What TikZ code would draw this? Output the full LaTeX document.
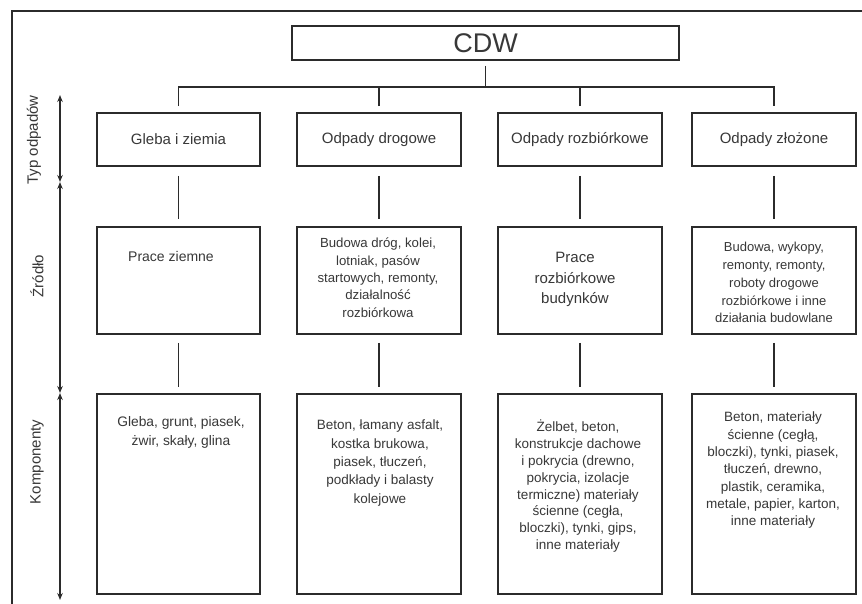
\documentclass[tikz,border=0pt]{standalone}
\usepackage{fontspec}
\setmainfont{Liberation Sans}
\usetikzlibrary{arrows.meta}
\definecolor{ln}{HTML}{2B2B2B}
\definecolor{tx}{HTML}{383838}
\begin{document}
\begin{tikzpicture}[x=1pt,y=-1pt,
  box/.style={draw=ln, line width=1.6pt, inner sep=0pt, fill=white},
  conn/.style={draw=ln, line width=1.5pt},
  axis/.style={draw=ln, line width=1.2pt, {Stealth[length=7pt,width=5.5pt]}-{Stealth[length=7pt,width=5.5pt]}},
  txt/.style={text=tx, inner sep=0pt, align=center, anchor=north},
  hd/.style={text=tx, font=\fontsize{15}{18}\selectfont},
  side/.style={text=tx, rotate=90, font=\fontsize{15}{18}\selectfont, inner sep=0pt}]
\useasboundingbox (0,0) rectangle (862,604);
\clip (0,0) rectangle (862,604);
\fill[white] (0,0) rectangle (862,604);
% outer frame
\draw[ln, line width=1.2pt] (12,640) -- (12,11) -- (900,11);

% top
\node[box, minimum width=387pt, minimum height=34pt, text=tx, font=\fontsize{27}{30}\selectfont] (cdw) at (485.5,43) {CDW};

% row 1
\node[box, hd, minimum width=163pt, minimum height=53pt] (t1) at (178.5,139.5) {Gleba i ziemia};
\node[box, hd, minimum width=164pt, minimum height=53pt] (t2) at (379,139.5) {Odpady drogowe};
\node[box, hd, minimum width=164pt, minimum height=53pt] (t3) at (580,139.5) {Odpady rozbiórkowe};
\node[box, hd, minimum width=164pt, minimum height=53pt] (t4) at (774,139.5) {Odpady złożone};

% row 2
\node[box, minimum width=163pt, minimum height=107pt] (s1) at (178.5,280.5) {};
\node[box, minimum width=164pt, minimum height=107pt] (s2) at (379,280.5) {};
\node[box, minimum width=164pt, minimum height=107pt] (s3) at (580,280.5) {};
\node[box, minimum width=164pt, minimum height=107pt] (s4) at (774,280.5) {};

% row 3
\node[box, minimum width=163pt, minimum height=200pt] (k1) at (178.5,494) {};
\node[box, minimum width=164pt, minimum height=200pt] (k2) at (379,494) {};
\node[box, minimum width=164pt, minimum height=200pt] (k3) at (580,494) {};
\node[box, minimum width=164pt, minimum height=200pt] (k4) at (774,494) {};

% row 2 texts
\node[txt, font=\fontsize{14}{17}\selectfont] (s1t) at (171,251.5) {Prace ziemne};
\node[txt, font=\fontsize{13.2}{17.3}\selectfont] (s2t) at (378,238) {Budowa dróg, kolei,\\lotniak, pasów\\startowych, remonty,\\działalność\\rozbiórkowa};
\node[txt, font=\fontsize{15}{20.5}\selectfont] (s3t) at (575,252) {Prace\\rozbiórkowe\\budynków};
\node[txt, font=\fontsize{13}{17.8}\selectfont] (s4t) at (774,242) {Budowa, wykopy,\\remonty, remonty,\\roboty drogowe\\rozbiórkowe i inne\\działania budowlane};

% row 3 texts
\node[txt, font=\fontsize{13.8}{19}\selectfont] (k1t) at (181,416.5) {Gleba, grunt, piasek,\\żwir, skały, glina};
\node[txt, font=\fontsize{13.5}{18.3}\selectfont] (k2t) at (380,420) {Beton, łamany asfalt,\\kostka brukowa,\\piasek, tłuczeń,\\podkłady i balasty\\kolejowe};
\node[txt, font=\fontsize{13.5}{16.9}\selectfont] (k3t) at (578,419.5) {Żelbet, beton,\\konstrukcje dachowe\\i pokrycia (drewno,\\pokrycia, izolacje\\termiczne) materiały\\ścienne (cegła,\\bloczki), tynki, gips,\\inne materiały};
\node[txt, font=\fontsize{13.5}{17.3}\selectfont] (k4t) at (773,412) {Beton, materiały\\ścienne (cegłą,\\bloczki), tynki, piasek,\\tłuczeń, drewno,\\plastik, ceramika,\\metale, papier, karton,\\inne materiały};

% tree connectors
\coordinate (bar) at (486,87);
\draw[conn] ([yshift=-5pt]cdw.south) -- (cdw.south |- bar);
\draw[conn] ([yshift=6pt]t1.north) -- (t1.north |- bar) -- (t4.north |- bar) -- ([yshift=6pt]t4.north);
\draw[conn] ([yshift=6pt]t2.north) -- (t2.north |- bar);
\draw[conn] ([yshift=6pt]t3.north) -- (t3.north |- bar);

\foreach \i in {1,2,3,4}{
  \draw[conn, shorten <=9pt, shorten >=7pt] (t\i.south) -- (s\i.north);
  \draw[conn, shorten <=8pt, shorten >=6pt] (s\i.south) -- (k\i.north);
}

% side axis
\coordinate (a0) at (60,95);
\coordinate (a1) at (60,182);
\coordinate (a2) at (60,393);
\coordinate (a3) at (60,600);
\draw[axis] (a0) -- (a1);
\draw[axis] (a1) -- (a2);
\draw[axis] (a2) -- (a3);

\node[side] (l1) at (34,140) {Typ odpadów};
\node[side] (l2) at (37,276) {Źródło};
\node[side] (l3) at (37,462) {Komponenty};
\end{tikzpicture}
\end{document}
